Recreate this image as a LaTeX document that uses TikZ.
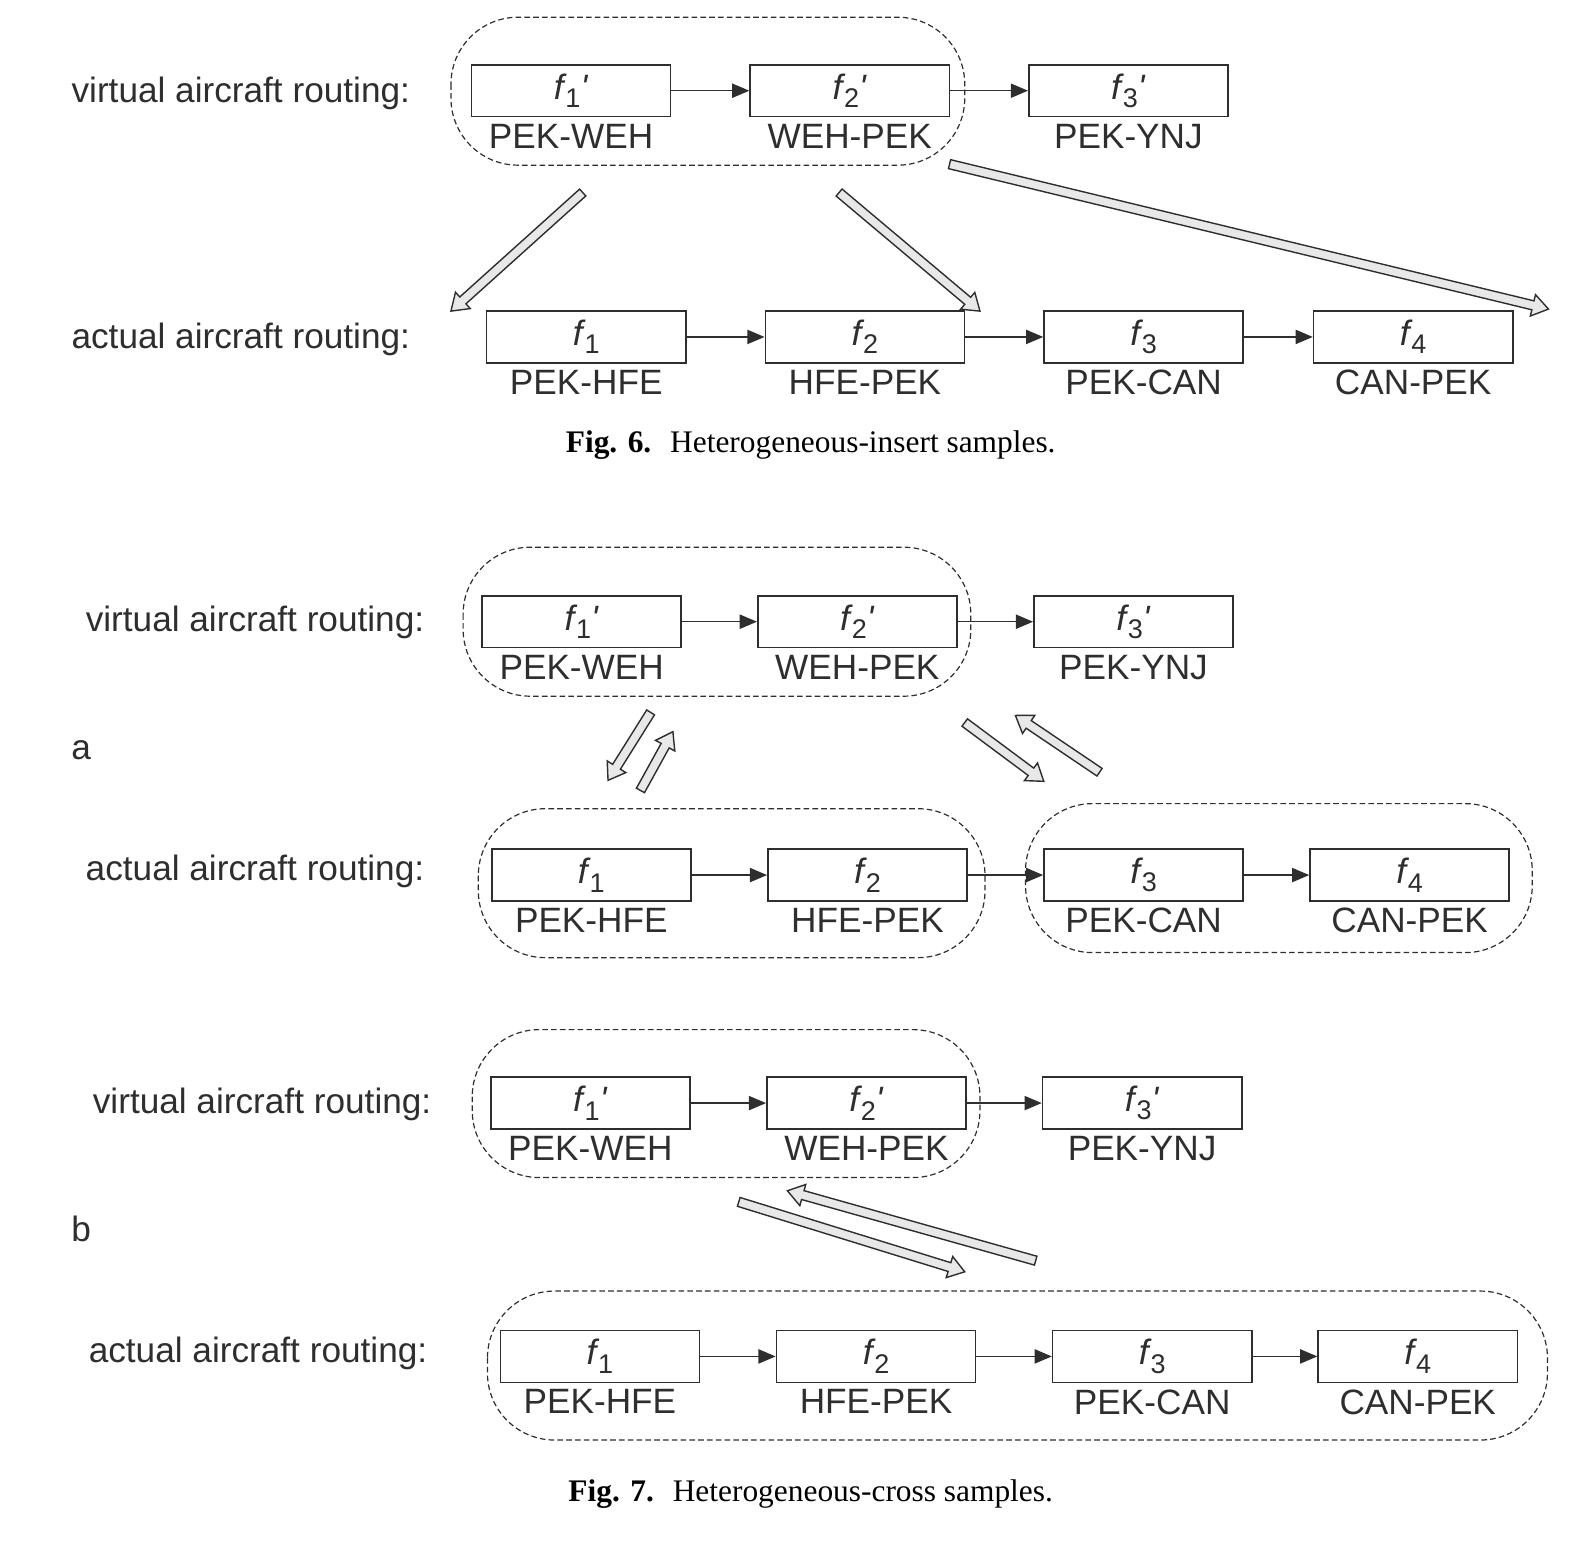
\documentclass[tikz,border=0pt]{standalone}
\usepackage{fontspec}
\setmainfont{Liberation Sans}
\newfontfamily\capfont{Liberation Serif}
\usetikzlibrary{arrows.meta,calc,positioning}
\definecolor{ink}{HTML}{2E2E2E}
\definecolor{hfill}{HTML}{E8E8E8}
\newcommand\fl[2]{\textit{f}\kern-0.6pt\raisebox{-0.45ex}{\fontsize{13.5pt}{13.5pt}\selectfont #1}#2}
\newcommand\pr{\textit{\textquotesingle}}
\newcommand\harrow[2]{%
  \coordinate (hb) at ($(#2)!8pt!(#1)$);
  \draw[hol] ($(#1)!2.3pt!90:(#2)$) -- ($(hb)!2.3pt!90:(#2)$) -- ($(hb)!5.5pt!90:(#2)$) -- (#2)
    -- ($(hb)!5.5pt!-90:(#2)$) -- ($(hb)!2.3pt!-90:(#2)$) -- ($(#1)!2.3pt!-90:(#2)$) -- cycle;}
\begin{document}
\begin{tikzpicture}[x=0.5067pt,y=-0.5067pt,
  font=\fontsize{17.6pt}{20pt}\selectfont, text=ink,
  box/.style={draw=ink, line width=0.8pt, minimum width=99.6pt, minimum height=25.9pt, inner sep=0pt},
  lab/.style={inner sep=0pt},
  rowlab/.style={anchor=base east, inner sep=0pt},
  grp/.style={draw=ink, line width=0.6pt, dash pattern=on 2.8pt off 1.6pt, rounded corners=33.5pt},
  conn/.style={draw=ink, line width=0.75pt, -{Triangle[length=8.6pt,width=7.1pt]}},
  hol/.style={draw=ink, fill=hfill, line width=0.7pt, line join=miter},
  figcap/.style={font=\capfont\fontsize{15.7pt}{18pt}\selectfont, text=black, anchor=base, inner sep=0pt}]
\useasboundingbox (0,0) rectangle (1568,1523.6);

% ---------------- Fig. 6 ----------------
\node[rowlab] (v6) at (405,101) {virtual aircraft routing:};
\node[rowlab] (r6) at (405,344) {actual aircraft routing:};
\node[box] (a1) at (563.5,89.5) {\fl{1}{\pr}};
\node[box] (a2) at (838.5,89.5) {\fl{2}{\pr}};
\node[box] (a3) at (1113.5,89.5) {\fl{3}{\pr}};
\node[lab, below=3pt of a1] (a1l) {PEK-WEH};
\node[lab, below=3pt of a2] (a2l) {WEH-PEK};
\node[lab, below=3pt of a3] (a3l) {PEK-YNJ};
\draw[conn] (a1) -- (a2);
\draw[conn] (a2) -- (a3);
\draw[grp] (445,17) rectangle (952,163);

\node[box] (b1) at (578.5,332.5) {\fl{1}{}};
\node[box] (b2) at (853.5,332.5) {\fl{2}{}};
\node[box] (b3) at (1128.5,332.5) {\fl{3}{}};
\node[box] (b4) at (1394.5,332.5) {\fl{4}{}};
\node[lab, below=3pt of b1] (b1l) {PEK-HFE};
\node[lab, below=3pt of b2] (b2l) {HFE-PEK};
\node[lab, below=3pt of b3] (b3l) {PEK-CAN};
\node[lab, below=3pt of b4] (b4l) {CAN-PEK};
\draw[conn] (b1) -- (b2);
\draw[conn] (b2) -- (b3);
\draw[conn] (b3) -- (b4);

\coordinate (h1s) at (575,190); \coordinate (h1e) at (445,307);
\coordinate (h2s) at (828,190); \coordinate (h2e) at (967,307);
\coordinate (h3s) at (937,162); \coordinate (h3e) at (1528,305);
\harrow{h1s}{h1e}
\harrow{h2s}{h2e}
\harrow{h3s}{h3e}

\node[figcap] (cap6) at (800,447) {\textbf{Fig. 6.}\hspace{0.6em}Heterogeneous-insert samples.};

% ---------------- Fig. 7a ----------------
\node[rowlab] (v7a) at (419,623) {virtual aircraft routing:};
\node[rowlab] (r7a) at (419,869) {actual aircraft routing:};
\node[inner sep=0pt, anchor=base] (la) at (80,749) {a};
\node[box] (c1) at (574,613.5) {\fl{1}{\pr}};
\node[box] (c2) at (846,613.5) {\fl{2}{\pr}};
\node[box] (c3) at (1118.5,613.5) {\fl{3}{\pr}};
\node[lab, below=3pt of c1] (c1l) {PEK-WEH};
\node[lab, below=3pt of c2] (c2l) {WEH-PEK};
\node[lab, below=3pt of c3] (c3l) {PEK-YNJ};
\draw[conn] (c1) -- (c2);
\draw[conn] (c2) -- (c3);
\draw[grp] (457,540) rectangle (958,687);

\node[box] (d1) at (583.5,863.5) {\fl{1}{}};
\node[box] (d2) at (856,863.5) {\fl{2}{}};
\node[box] (d3) at (1128.5,863.5) {\fl{3}{}};
\node[box] (d4) at (1391,863.5) {\fl{4}{}};
\node[lab, below=3pt of d1] (d1l) {PEK-HFE};
\node[lab, below=3pt of d2] (d2l) {HFE-PEK};
\node[lab, below=3pt of d3] (d3l) {PEK-CAN};
\node[lab, below=3pt of d4] (d4l) {CAN-PEK};
\draw[conn] (d1) -- (d2);
\draw[conn] (d2) -- (d3);
\draw[conn] (d3) -- (d4);
\draw[grp] (472,798) rectangle (972,945);
\draw[grp] (1012,793) rectangle (1512,940);

\coordinate (p1s) at (642,703); \coordinate (p1e) at (600,770);
\coordinate (p2s) at (632,780); \coordinate (p2e) at (664,722);
\coordinate (p3s) at (952,713); \coordinate (p3e) at (1030,771);
\coordinate (p4s) at (1085,762); \coordinate (p4e) at (1002,706);
\harrow{p1s}{p1e}
\harrow{p2s}{p2e}
\harrow{p3s}{p3e}
\harrow{p4s}{p4e}

% ---------------- Fig. 7b ----------------
\node[rowlab] (v7b) at (426,1099) {virtual aircraft routing:};
\node[rowlab] (r7b) at (422,1344) {actual aircraft routing:};
\node[inner sep=0pt, anchor=base] (lb) at (80,1225) {b};
\node[box] (e1) at (582.5,1088.5) {\fl{1}{\pr}};
\node[box] (e2) at (855,1088.5) {\fl{2}{\pr}};
\node[box] (e3) at (1127,1088.5) {\fl{3}{\pr}};
\node[lab, below=3pt of e1] (e1l) {PEK-WEH};
\node[lab, below=3pt of e2] (e2l) {WEH-PEK};
\node[lab, below=3pt of e3] (e3l) {PEK-YNJ};
\draw[conn] (e1) -- (e2);
\draw[conn] (e2) -- (e3);
\draw[grp] (466,1016) rectangle (967,1162);

\node[box] (g1) at (592,1338.5) {\fl{1}{}};
\node[box] (g2) at (864.5,1338.5) {\fl{2}{}};
\node[box] (g3) at (1137,1338.5) {\fl{3}{}};
\node[box] (g4) at (1399,1338.5) {\fl{4}{}};
\node[lab, below=3pt of g1] (g1l) {PEK-HFE};
\node[lab, below=3pt of g2] (g2l) {HFE-PEK};
\node[lab, below=3pt of g3] (g3l) {PEK-CAN};
\node[lab, below=3pt of g4] (g4l) {CAN-PEK};
\draw[conn] (g1) -- (g2);
\draw[conn] (g2) -- (g3);
\draw[conn] (g3) -- (g4);
\draw[grp] (481,1274) rectangle (1527,1421);

\coordinate (q1s) at (729,1186); \coordinate (q1e) at (952,1255);
\coordinate (q2s) at (1022,1244); \coordinate (q2e) at (777,1175);
\harrow{q1s}{q1e}
\harrow{q2s}{q2e}

\node[figcap] (cap7) at (800,1482) {\textbf{Fig. 7.}\hspace{0.6em}Heterogeneous-cross samples.};
\end{tikzpicture}
\end{document}
